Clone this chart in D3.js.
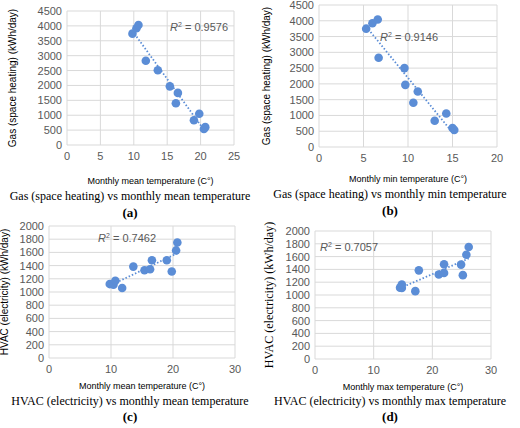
<!DOCTYPE html><html><head><meta charset="utf-8">
<script src="https://cdn.jsdelivr.net/npm/d3@7"></script>
<style>body{margin:0;background:#fff}</style></head><body>
<svg id="c" width="520" height="428"></svg>
<script>
const meanTempGas=[9.8,10.4,10.7,11.8,13.6,15.4,16.6,16.3,19.0,19.8,20.5,20.7];
const gasA=[3740,3920,4030,2830,2510,1970,1750,1400,830,1050,540,600];
const minTemp=[5.3,6.0,6.6,6.7,9.6,9.7,11.1,10.6,13.0,14.3,15.0,15.2];
const gasB=[3750,3920,4040,2830,2500,1970,1760,1400,830,1060,600,540];
const meanTempHvac=[9.8,10.4,10.7,11.8,13.6,15.4,16.3,16.6,19.0,19.8,20.5,20.7];
const hvacC=[1120,1110,1170,1060,1385,1330,1345,1480,1480,1310,1630,1750];
const maxTemp=[14.5,14.8,14.8,17.1,17.7,21.1,22.0,22.0,24.9,25.2,25.8,26.2];
const hvacD=[1115,1110,1165,1060,1385,1320,1345,1480,1475,1310,1630,1750];
const r2=["0.9576","0.9146","0.7462","0.7057"];

const svg=d3.select("#c");
const col="#5B8DD6";
function panel(o){
  const g=svg.append("g");
  const x=d3.scaleLinear().domain(o.xd).range([o.x0,o.x1]);
  const y=d3.scaleLinear().domain(o.yd).range([o.y0,o.y1]);
  g.append("g").selectAll("line").data(o.xt).join("line")
   .attr("x1",d=>x(d)).attr("x2",d=>x(d)).attr("y1",o.y0).attr("y2",o.y1).attr("stroke","#d9d9d9");
  g.append("g").selectAll("line").data(o.yt).join("line")
   .attr("y1",d=>y(d)).attr("y2",d=>y(d)).attr("x1",o.x0).attr("x2",o.x1).attr("stroke","#d9d9d9");
  g.append("g").selectAll("text").data(o.xt).join("text").attr("x",d=>x(d)).attr("y",o.y0+15)
   .attr("text-anchor","middle").attr("font-family","Liberation Sans, Arial").attr("font-size",11).attr("fill","#595959").text(d=>d);
  g.append("g").selectAll("text").data(o.yt).join("text").attr("x",o.x0-5).attr("y",d=>y(d)+4)
   .attr("text-anchor","end").attr("font-family","Liberation Sans, Arial").attr("font-size",11).attr("fill","#595959").text(d=>d);
  const mx=d3.mean(o.xs),my=d3.mean(o.ys);
  const b=d3.sum(o.xs,(v,i)=>(v-mx)*(o.ys[i]-my))/d3.sum(o.xs,v=>(v-mx)*(v-mx)), a=my-b*mx;
  const [lo,hi]=d3.extent(o.xs);
  g.append("line").attr("x1",x(lo)).attr("x2",x(hi)).attr("y1",y(a+b*lo)).attr("y2",y(a+b*hi))
   .attr("stroke",col).attr("stroke-width",1.8).attr("stroke-dasharray","1.5,2");
  g.append("g").selectAll("circle").data(o.xs).join("circle").attr("cx",d=>x(d)).attr("cy",(d,i)=>y(o.ys[i]))
   .attr("r",4.3).attr("fill",col);
  const t=g.append("text").attr("x",o.rx).attr("y",o.ry).attr("font-family","Liberation Sans, Arial").attr("font-size",11).attr("fill","#595959");
  t.append("tspan").attr("font-style","italic").text("R");
  t.append("tspan").attr("font-size",7).attr("dy",-4).text("2");
  t.append("tspan").attr("dy",4).text(" = "+o.r2);
  g.append("text").attr("transform",`translate(${o.lx},${(o.y0+o.y1)/2}) rotate(-90)`).attr("text-anchor","middle")
   .attr("font-family",o.lserif?"Liberation Serif, Times New Roman":"Liberation Sans, Arial").attr("font-size",o.lserif?12:10).attr("fill","#000").text(o.ylab);
  g.append("text").attr("x",(o.x0+o.x1)/2).attr("y",o.xly).attr("text-anchor","middle")
   .attr("font-family","Liberation Sans, Arial").attr("font-size",9).text(o.xlab);
  g.append("text").attr("x",o.cx).attr("y",o.ty).attr("text-anchor","middle")
   .attr("font-family","Liberation Serif, Times New Roman").attr("font-size",12).text(o.title);
  g.append("text").attr("x",o.cx).attr("y",o.ty+o.tg).attr("text-anchor","middle")
   .attr("font-family","Liberation Serif, Times New Roman").attr("font-weight","bold").attr("font-size",13).text(o.tag);
}
panel({xd:[0,25],yd:[0,4500],x0:67,x1:234,y0:145,y1:11,xt:[0,5,10,15,20,25],yt:d3.range(0,4501,500),
 xs:meanTempGas,ys:gasA,r2:r2[0],rx:170,ry:31,lx:16,ylab:"Gas (space heating) (kWh/day)",
 xlab:"Monthly mean temperature (C°)",xly:184,title:"Gas (space heating) vs monthly mean temperature",cx:130,ty:200,tg:17,tag:"(a)"});
panel({xd:[0,20],yd:[0,4500],x0:319,x1:497,y0:147,y1:5,xt:[0,5,10,15,20],yt:d3.range(0,4501,500),
 xs:minTemp,ys:gasB,r2:r2[1],rx:380,ry:41,lx:270,ylab:"Gas (space heating) (kWh/day)",
 xlab:"Monthly min temperature (C°)",xly:182,title:"Gas (space heating) vs monthly min temperature",cx:390,ty:198,tg:17,tag:"(b)"});
panel({xd:[0,30],yd:[0,2000],x0:49,x1:235,y0:358,y1:226,xt:[0,10,20,30],yt:d3.range(0,2001,200),
 xs:meanTempHvac,ys:hvacC,r2:r2[2],rx:98,ry:242,lx:8,ylab:"HVAC (electricity) (kWh/day)",
 xlab:"Monthly mean temperature (C°)",xly:389,title:"HVAC (electricity) vs monthly mean temperature",cx:130,ty:405,tg:16,tag:"(c)"});
panel({xd:[0,30],yd:[0,2000],x0:315,x1:491,y0:359,y1:231,xt:[0,10,20,30],yt:d3.range(0,2001,200),
 xs:maxTemp,ys:hvacD,r2:r2[3],rx:320,ry:251,lx:273,lserif:true,ylab:"HVAC (electricity)  (kWh/day)",
 xlab:"Monthly max temperature (C°)",xly:390,title:"HVAC (electricity) vs monthly max temperature",cx:390,ty:405,tg:16,tag:"(d)"});
</script></body></html>
